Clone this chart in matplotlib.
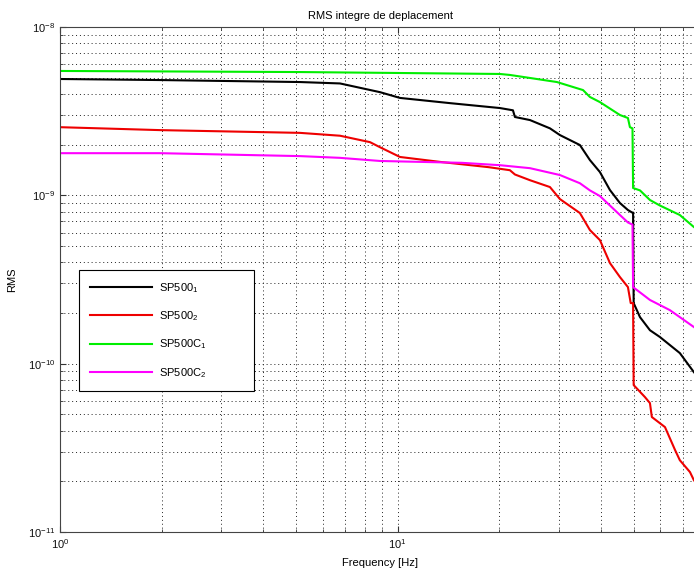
import matplotlib
matplotlib.use("Agg")
import matplotlib.pyplot as plt
from matplotlib.ticker import LogLocator, NullFormatter

plt.rcParams['font.family'] = ['Liberation Sans', 'DejaVu Sans']
plt.rcParams['mathtext.fontset'] = 'custom'
plt.rcParams['mathtext.rm'] = 'Liberation Sans'
plt.rcParams['mathtext.it'] = 'Liberation Sans'
plt.rcParams['mathtext.bf'] = 'Liberation Sans'
plt.rcParams['axes.unicode_minus'] = False

title = "RMS integre de deplacement"
xlabel = "Frequency [Hz]"
ylabel = "RMS"
labels = ["SP500$_{1}$", "SP500$_{2}$", "SP500C$_{1}$", "SP500C$_{2}$"]
colors = ["#000000", "#ee0000", "#00ee00", "#ff00ff"]

f_sp1 = [1.0, 1.98, 5.14, 6.75, 8.87, 10.16, 14.28, 20.09, 21.95, 22.25, 24.65, 28.25,
         30.24, 34.65, 37.1, 39.72, 42.53, 45.53, 48.08, 49.5, 49.8, 50.0, 52.2, 55.87,
         59.8, 68.5, 75.4, 79.0]
v_sp1 = [4.91e-9, 4.84e-9, 4.71e-9, 4.62e-9, 4.1e-9, 3.79e-9, 3.53e-9, 3.30e-9, 3.2e-9,
         2.92e-9, 2.80e-9, 2.5e-9, 2.28e-9, 1.99e-9, 1.62e-9, 1.375e-9, 1.075e-9, 9.0e-10,
         8.18e-10, 7.9e-10, 7.9e-10, 2.29e-10, 1.89e-10, 1.58e-10, 1.44e-10, 1.156e-10,
         8.9e-11, 8.0e-11]

f_sp2 = [1.0, 1.98, 5.14, 6.75, 8.28, 8.87, 10.16, 13.35, 18.6, 21.5, 22.25, 24.65, 28.25,
         30.24, 34.65, 37.1, 39.72, 42.53, 45.53, 48.08, 49.0, 49.8, 50.0, 54.0, 55.87,
         56.6, 61.9, 66.3, 68.5, 73.4, 75.4, 79.0]
v_sp2 = [2.54e-9, 2.44e-9, 2.35e-9, 2.26e-9, 2.07e-9, 1.93e-9, 1.69e-9, 1.58e-9, 1.47e-9,
         1.41e-9, 1.33e-9, 1.23e-9, 1.12e-9, 9.5e-10, 7.85e-10, 6.22e-10, 5.42e-10, 3.96e-10,
         3.27e-10, 2.85e-10, 2.29e-10, 2.29e-10, 7.46e-11, 6.33e-11, 5.83e-11, 4.82e-11,
         4.2e-11, 3.07e-11, 2.67e-11, 2.27e-11, 2.03e-11, 1.8e-11]

f_c1 = [1.0, 5.14, 10.16, 20.09, 21.5, 29.63, 35.4, 37.1, 39.72, 45.53, 48.08, 48.74,
        49.6, 49.8, 52.2, 55.87, 59.8, 68.5, 75.4, 79.0]
v_c1 = [5.48e-9, 5.40e-9, 5.33e-9, 5.26e-9, 5.19e-9, 4.71e-9, 4.22e-9, 3.84e-9, 3.58e-9,
        3.00e-9, 2.88e-9, 2.54e-9, 2.5e-9, 1.105e-9, 1.07e-9, 9.38e-10, 8.7e-10, 7.64e-10,
        6.48e-10, 6.1e-10]

f_c2 = [1.0, 1.98, 5.14, 6.75, 8.87, 15.5, 20.09, 24.65, 30.24, 34.65, 37.1, 39.72, 42.53,
        45.53, 48.08, 49.6, 49.8, 55.87, 64.0, 68.5, 75.4, 79.0]
v_c2 = [1.78e-9, 1.78e-9, 1.71e-9, 1.67e-9, 1.60e-9, 1.56e-9, 1.51e-9, 1.45e-9, 1.32e-9,
        1.18e-9, 1.07e-9, 9.9e-10, 8.7e-10, 7.64e-10, 6.9e-10, 6.7e-10, 2.85e-10,
        2.39e-10, 2.08e-10, 1.89e-10, 1.65e-10, 1.55e-10]

series = [(f_sp1, v_sp1), (f_sp2, v_sp2), (f_c1, v_c1), (f_c2, v_c2)]

W, H = 694, 569
fig = plt.figure(figsize=(W / 100, H / 100), dpi=100)
ax = fig.add_axes([60 / W, 37 / H, 640 / W, 505 / H])

for (f, v), lab, c in zip(series, labels, colors):
    ax.plot(f, v, color=c, lw=1.5, label=lab)

ax.set_xscale('log')
ax.set_yscale('log')
ax.set_xlim(1, 78.6)
ax.set_ylim(1e-11, 1e-8)

ax.xaxis.set_major_locator(LogLocator(base=10))
ax.yaxis.set_major_locator(LogLocator(base=10))
ax.xaxis.set_minor_locator(LogLocator(base=10, subs=range(2, 10)))
ax.yaxis.set_minor_locator(LogLocator(base=10, subs=range(2, 10)))
ax.xaxis.set_minor_formatter(NullFormatter())
ax.yaxis.set_minor_formatter(NullFormatter())

ax.grid(True, which='both', linestyle=(0, (1, 3)), color='#222222', linewidth=0.7)
ax.tick_params(which='both', direction='in', top=True, right=False, labelsize=8,
               colors='#333333', labelcolor='#111111')
ax.tick_params(which='major', length=4)
ax.tick_params(which='minor', length=2)
for s in ['left', 'bottom', 'top']:
    ax.spines[s].set_color('#444444')
ax.spines['right'].set_visible(False)

ax.set_title(title, fontsize=8, pad=6)
ax.set_xlabel(xlabel, fontsize=8, labelpad=5)
ax.set_ylabel(ylabel, fontsize=8, labelpad=8)

leg = ax.legend(loc='upper left', bbox_to_anchor=(79 / W, 1 - 392 / H, 175 / W, 122 / H),
                bbox_transform=fig.transFigure, mode='expand', fontsize=8, fancybox=False,
                edgecolor='black', framealpha=1, handlelength=5.6, handletextpad=0.6,
                labelspacing=1.3, borderpad=1.0, borderaxespad=0)
leg.get_frame().set_linewidth(0.8)
for line in leg.get_lines():
    line.set_linewidth(1.5)

fig.savefig("out.png", dpi=100)
